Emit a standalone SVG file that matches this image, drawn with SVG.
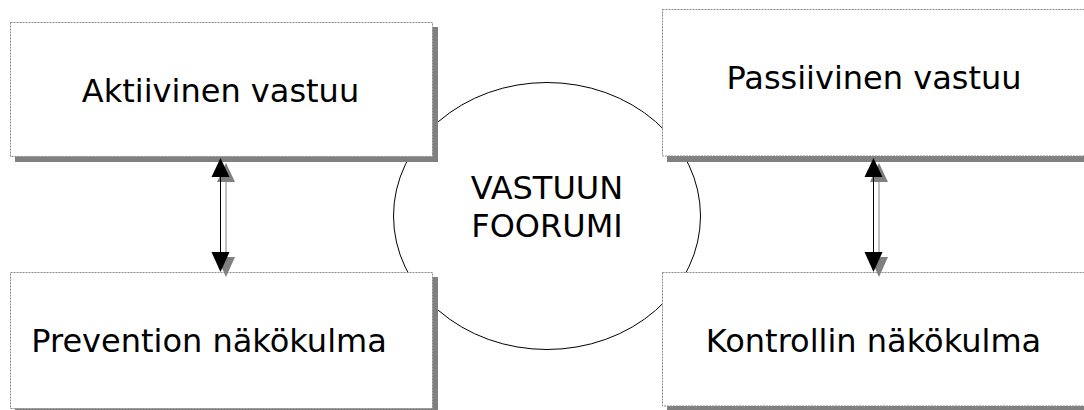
<svg xmlns="http://www.w3.org/2000/svg" width="1084" height="410" viewBox="0 0 1084 410">
  <style>
    .shadow { fill: #808080; }
    .box { fill: #ffffff; stroke: #8a8a8a; stroke-width: 1; stroke-dasharray: 2 1; }
    .label { font-family: "DejaVu Sans", Verdana, sans-serif; font-size: 32px; fill: #000000; text-anchor: middle; }
    .forum { fill: #ffffff; stroke: #000000; stroke-width: 1; }
    .line { stroke: #000000; stroke-width: 1; fill: none; }
    .line-sh { stroke: #808080; stroke-width: 1; fill: none; }
    .head { fill: #000000; }
    .head-sh { fill: #808080; }
  </style>
  <rect width="1084" height="410" fill="#ffffff"/>

  <!-- central forum ellipse -->
  <g id="forum">
    <ellipse class="forum" cx="547" cy="216" rx="153.5" ry="133.5"/>
    <text class="label" x="547" y="199">VASTUUN</text>
    <text class="label" x="547" y="237">FOORUMI</text>
  </g>

  <g id="aktiivinen">
    <rect class="shadow" x="15" y="27" width="423" height="135"/>
    <rect class="box" x="10.5" y="22.5" width="422" height="134"/>
    <text class="label" x="220.5" y="102">Aktiivinen vastuu</text>
  </g>

  <g id="prevention">
    <rect class="shadow" x="15" y="277" width="423" height="137"/>
    <rect class="box" x="10.5" y="272.5" width="422" height="136"/>
    <text class="label" x="209" y="352">Prevention näkökulma</text>
  </g>

  <g id="passiivinen">
    <rect class="shadow" x="667" y="14" width="431" height="148"/>
    <rect class="box" x="662.5" y="9.5" width="430" height="146.5"/>
    <text class="label" x="874" y="89">Passiivinen vastuu</text>
  </g>

  <g id="kontrollin">
    <rect class="shadow" x="667" y="277" width="431" height="134"/>
    <rect class="box" x="662.5" y="272.5" width="430" height="133.5"/>
    <text class="label" x="873.5" y="352">Kontrollin näkökulma</text>
  </g>

  <!-- double-headed connectors with offset shadows -->
  <g id="connectors">
    <line class="line-sh" x1="226" y1="170" x2="226" y2="262"/>
    <polygon class="head-sh" points="226,163 235,182 217,182"/>
    <polygon class="head-sh" points="226,277 235,257 217,257"/>
    <line class="line" x1="220.5" y1="170" x2="220.5" y2="262"/>
    <polygon class="head" points="220.5,158 229.5,177 211.5,177"/>
    <polygon class="head" points="220.5,272 229.5,252 211.5,252"/>

    <line class="line-sh" x1="879" y1="170" x2="879" y2="262"/>
    <polygon class="head-sh" points="879,163 888,182 870,182"/>
    <polygon class="head-sh" points="879,277 888,257 870,257"/>
    <line class="line" x1="873.5" y1="170" x2="873.5" y2="262"/>
    <polygon class="head" points="873.5,158 882.5,177 864.5,177"/>
    <polygon class="head" points="873.5,272 882.5,252 864.5,252"/>
  </g>
</svg>
